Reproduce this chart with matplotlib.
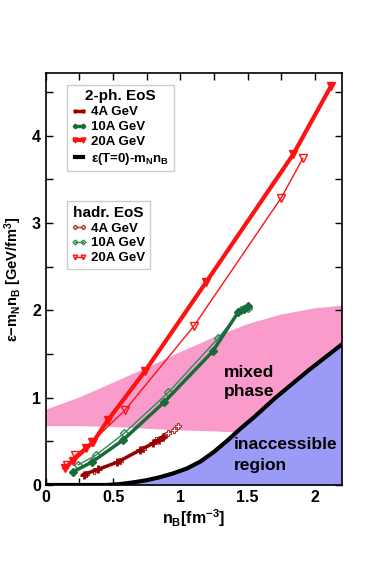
import matplotlib.pyplot as plt
import numpy as np

plt.rcParams['font.family'] = ['Liberation Sans', 'DejaVu Sans']
plt.rcParams['font.weight'] = 'bold'
plt.rcParams['mathtext.fontset'] = 'custom'
plt.rcParams['mathtext.rm'] = 'Liberation Sans:bold'
plt.rcParams['mathtext.it'] = 'Liberation Sans:bold'
plt.rcParams['mathtext.bf'] = 'Liberation Sans:bold'
plt.rcParams['mathtext.default'] = 'rm'

# 2-phase EoS trajectories
ph2_4_x = [0.28, 0.39, 0.53, 0.70, 0.80, 0.84, 0.87]
ph2_4_y = [0.12, 0.18, 0.26, 0.40, 0.48, 0.52, 0.55]
ph2_10_x = [0.20, 0.34, 0.57, 0.88, 1.24, 1.43, 1.47, 1.50]
ph2_10_y = [0.15, 0.26, 0.51, 0.95, 1.53, 1.98, 2.02, 2.05]
ph2_20_x = [0.14, 0.20, 0.30, 0.35, 0.46, 0.74, 1.19, 1.84, 2.12]
ph2_20_y = [0.19, 0.28, 0.42, 0.49, 0.74, 1.31, 2.32, 3.79, 4.57]

# hadronic EoS trajectories
had_4_x = [0.30, 0.36, 0.55, 0.72, 0.82, 0.88, 0.91, 0.95, 0.98]
had_4_y = [0.13, 0.16, 0.28, 0.41, 0.51, 0.56, 0.60, 0.63, 0.67]
had_10_x = [0.24, 0.37, 0.58, 0.91, 1.28, 1.45, 1.50]
had_10_y = [0.23, 0.34, 0.59, 1.06, 1.68, 2.00, 2.03]
had_20_x = [0.16, 0.22, 0.34, 0.59, 1.10, 1.75, 1.91]
had_20_y = [0.23, 0.34, 0.49, 0.86, 1.82, 3.29, 3.74]

# T=0 curve
t0_x = [0, 0.45, 0.55, 0.65, 0.75, 0.85, 0.95, 1.05, 1.15, 1.25, 1.35, 1.45, 1.55, 1.7, 1.95, 2.2]
t0_y = [0, 0, 0.01, 0.03, 0.055, 0.09, 0.135, 0.19, 0.27, 0.38, 0.51, 0.65, 0.78, 0.99, 1.31, 1.61]

# mixed phase band
band_x = [0, 0.25, 0.5, 0.75, 1.0, 1.25, 1.5, 1.75, 2.0, 2.2]
band_hi = [0.87, 1.01, 1.18, 1.35, 1.53, 1.70, 1.85, 1.96, 2.03, 2.06]
band_lo = [0.68, 0.68, 0.67, 0.65, 0.63, 0.62, 0.60, 0.60, 0.60, 0.60]

dark_red = '#990000'
had_red = '#b33333'
green = '#1a6b3a'
green_l = '#2e8b57'
red = '#ff1111'

fig = plt.figure(figsize=(3.92, 5.65), dpi=100)
ax = fig.add_axes([0.117, 0.1416, 0.755, 0.7294])

ax.fill_between(band_x, band_lo, band_hi, color='#fa9ccb', lw=0, zorder=1)
ax.fill_between(t0_x, 0, t0_y, color='#9b9bf7', lw=0, zorder=2)
t0_line, = ax.plot(t0_x, t0_y, color='black', lw=3, zorder=3)

h4, = ax.plot(ph2_4_x, ph2_4_y, color=dark_red, lw=2.5, marker='+', ms=6, mew=2, zorder=5)
h10, = ax.plot(ph2_10_x, ph2_10_y, color=green, lw=2.5, marker='D', ms=4, zorder=5)
h20, = ax.plot(ph2_20_x, ph2_20_y, color=red, lw=3, marker='v', ms=6, zorder=5)

g4, = ax.plot(had_4_x, had_4_y, color=had_red, lw=1, marker='P', ms=5, mfc='white', mew=0.8, zorder=4)
g10, = ax.plot(had_10_x, had_10_y, color=green_l, lw=1, marker='D', ms=4, mfc='none', zorder=4)
g20, = ax.plot(had_20_x, had_20_y, color=red, lw=1, marker='v', ms=5.5, mfc='none', zorder=4)

ax.text(1.32, 1.29, 'mixed', fontsize=12.5, fontweight='bold', va='center', zorder=6)
ax.text(1.32, 1.07, 'phase', fontsize=12.5, fontweight='bold', va='center', zorder=6)
ax.text(1.40, 0.46, 'inaccessible', fontsize=12.5, fontweight='bold', va='center', zorder=6)
ax.text(1.40, 0.22, 'region', fontsize=12.5, fontweight='bold', va='center', zorder=6)

ax.set_xlim(0, 2.2)
ax.set_ylim(0, 4.72)
ax.set_xticks([0, 0.5, 1, 1.5, 2])
ax.set_xticklabels(['0', '0.5', '1', '1.5', '2'])
ax.set_xticks(np.arange(0, 2.21, 0.25), minor=True)
ax.set_yticks([0, 1, 2, 3, 4])
ax.set_yticks(np.arange(0, 4.71, 0.5), minor=True)
ax.tick_params(which='both', direction='in', top=True, right=True, labelsize=11.5, width=1)
ax.tick_params(which='major', length=5)
ax.tick_params(which='minor', length=5)
for lab in ax.get_xticklabels() + ax.get_yticklabels():
    lab.set_fontweight('bold')
for s in ax.spines.values():
    s.set_linewidth(1.2)

ax.set_xlabel('n$_B$[fm$^{-3}$]', fontsize=11.5, fontweight='bold', labelpad=2)
ax.set_ylabel('ε−m$_N$n$_B$ [GeV/fm$^3$]', fontsize=10.5, fontweight='bold', labelpad=6)

leg_kw = dict(numpoints=2, handlelength=1.2, handletextpad=0.3,
              borderpad=0.35, labelspacing=0.2, fancybox=False, edgecolor='#cccccc',
              framealpha=1, prop={'weight': 'bold', 'size': 9.5}, borderaxespad=0)
leg1 = ax.legend([h4, h10, h20, t0_line],
                 ['4A GeV', '10A GeV', '20A GeV', 'ε(T=0)-m$_N$n$_B$'],
                 title='2-ph. EoS', loc='upper left', bbox_to_anchor=(0.071, 0.971),
                 markerscale=0.6, **leg_kw)
leg1.get_title().set_fontweight('bold')
leg1.get_title().set_fontsize(11)
ax.add_artist(leg1)
leg2 = ax.legend([g4, g10, g20], ['4A GeV', '10A GeV', '20A GeV'],
                 title='hadr. EoS', loc='upper left', bbox_to_anchor=(0.071, 0.689),
                 markerscale=0.6, **leg_kw)
leg2.get_title().set_fontweight('bold')
leg2.get_title().set_fontsize(11)

fig.savefig('out.png', dpi=100)
